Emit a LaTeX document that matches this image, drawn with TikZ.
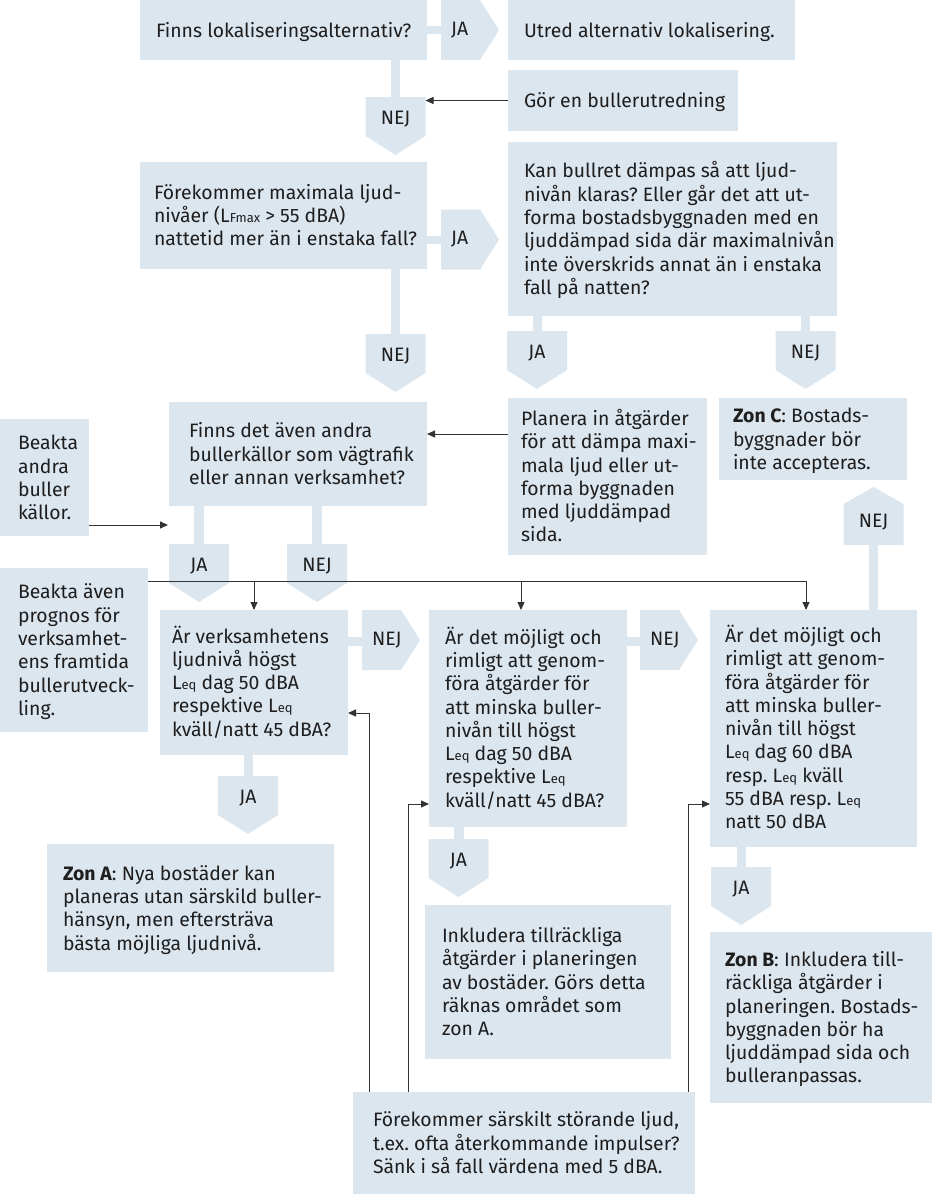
\documentclass[tikz,border=0pt]{standalone}
\usepackage{fontspec}
\setmainfont{Fira Sans}
\usetikzlibrary{arrows.meta,calc}
\definecolor{bfill}{HTML}{DCE6EF}
\definecolor{tcol}{HTML}{1E1E1E}
\definecolor{lcol}{HTML}{333333}
\frenchspacing
\newcommand\lsub[1]{{\fontsize{13}{13}\selectfont #1}}
\newcommand\bodyfont{\fontsize{19.4}{23.3}\selectfont}
\newcommand\tlines[2]{\makebox[#1pt][l]{\begin{tabular}{@{}l@{}}\rule{0pt}{21.3pt}#2\end{tabular}}}
\newcommand\dchev[4]{%
  \fill[bfill] (#2-30,#3) -- (#2+30,#3) -- (#2+30,#3+39) -- (#2,#3+58) -- (#2-30,#3+39) -- cycle;
  \node[lbl] (#1) at (#2,#3+22) {#4};
  \coordinate (#1-e) at (#2+30,#3+20);}
\newcommand\rchev[4]{%
  \fill[bfill] (#2,#3) -- (#2+39,#3) -- (#2+58,#3+30) -- (#2+39,#3+60) -- (#2,#3+60) -- cycle;
  \node[lbl, anchor=west] (#1) at (#2+10,#3+30) {#4};}
\tikzset{
  box/.style={fill=bfill, inner ysep=0pt, anchor=north west, font=\bodyfont, text=tcol, outer sep=0pt},
  lbl/.style={font=\bodyfont, text=tcol, inner sep=0pt},
  arr/.style={draw=lcol, line width=1pt, -{Triangle[length=8pt,width=7pt]}},
}
\begin{document}
\begin{tikzpicture}[x=1pt,y=-1pt]
\useasboundingbox (0,0) rectangle (946,1194);
% bars
\fill[bfill] (427,26) rectangle (441,34);
\fill[bfill] (391,60) rectangle (400,97);
\fill[bfill] (427,236) rectangle (441,244);
\fill[bfill] (391,269) rectangle (400,334);
\fill[bfill] (533,316) rectangle (542,331);
\fill[bfill] (801,316) rectangle (810,331);
\fill[bfill] (194,506) rectangle (204,544);
\fill[bfill] (312,506) rectangle (322,544);
\fill[bfill] (348,637) rectangle (362,646);
\fill[bfill] (244,755) rectangle (253,776);
\fill[bfill] (627,637) rectangle (640,646);
\fill[bfill] (454,827) rectangle (464,839);
\fill[bfill] (737,847) rectangle (746,867);
\fill[bfill] (869,545) rectangle (878,610);
% chevrons
\rchev{ja1}{441}{0}{JA}
\rchev{ja2}{441}{209.5}{JA}
\rchev{nej5}{362}{610}{NEJ}
\rchev{nej6}{640}{610}{NEJ}
\dchev{nej1}{395.5}{97}{NEJ}
\dchev{nej2}{395.5}{334}{NEJ}
\dchev{ja3}{537}{331}{JA}
\dchev{nej3}{805.5}{331}{NEJ}
\dchev{ja4}{199}{544}{JA}
\dchev{nej4}{317}{544}{NEJ}
\dchev{ja5}{248}{776}{JA}
\dchev{ja6}{458.5}{839}{JA}
\dchev{ja7}{741}{867}{JA}
\fill[bfill] (843.5,545) -- (843.5,504) -- (873.5,487) -- (903.5,504) -- (903.5,545) -- cycle;
\node[lbl] (nej7) at (873.5,522) {NEJ};
% boxes
\node[box, minimum width=287pt, minimum height=60pt, inner xsep=16pt] (q1) at (140,0) {\tlines{255}{Finns lokaliseringsalternativ?}};
\node[box, minimum width=287pt, minimum height=60pt, inner xsep=16pt] (utred) at (508,0) {\tlines{255}{Utred alternativ lokalisering.}};
\node[box, minimum width=230pt, minimum height=61pt, inner xsep=16pt] (gor) at (508,70) {\tlines{198}{Gör en bullerutredning}};
\node[box, minimum width=287pt, minimum height=107pt, inner xsep=14pt] (q2) at (140,162) {\tlines{259}{Förekommer maximala ljud-\\nivåer (L\lsub{Fmax} > 55 dBA)\\nattetid mer än i enstaka fall?}};
\node[box, minimum width=329pt, minimum height=174pt, inner xsep=16pt] (kan) at (508,142) {\tlines{297}{Kan bullret dämpas så att ljud-\\nivån klaras? Eller går det att ut-\\forma bostadsbyggnaden med en\\ljuddämpad sida där maximalnivån\\inte överskrids annat än i enstaka\\fall på natten?}};
\node[box, minimum width=199pt, minimum height=157pt, inner xsep=13pt] (planera) at (508,398) {\tlines{173}{Planera in åtgärder\\för att dämpa maxi-\\mala ljud eller ut-\\forma byggnaden\\med ljuddämpad\\sida.}};
\node[box, minimum width=188pt, minimum height=82pt, inner xsep=14pt] (zonc) at (719,398) {\tlines{160}{\textbf{Zon C}: Bostads-\\byggnader bör\\inte accepteras.}};
\node[box, minimum width=258pt, minimum height=104pt, inner xsep=20pt] (finns) at (169,402) {\tlines{218}{Finns det även andra\\bullerkällor som vägtrafik\\eller annan verksamhet?}};
\node[box, minimum width=89pt, minimum height=117pt, inner xsep=18pt] (beakta1) at (0,419) {\tlines{53}{Beakta\\andra\\buller\\källor.}};
\node[box, minimum width=148pt, minimum height=164pt, inner xsep=18pt] (beakta2) at (0,568) {\tlines{112}{Beakta även\\prognos för\\verksamhet-\\ens framtida\\bullerutveck-\\ling.}};
\node[box, minimum width=188pt, minimum height=145pt, inner xsep=12pt] (q3) at (160,610) {\tlines{164}{Är verksamhetens\\ljudnivå högst\\L\lsub{eq} dag 50 dBA\\respektive L\lsub{eq}\\kväll/natt 45 dBA?}};
\node[box, minimum width=198pt, minimum height=217pt, inner xsep=16pt] (q4) at (429,610) {\tlines{166}{Är det möjligt och\\rimligt att genom-\\föra åtgärder för\\att minska buller-\\nivån till högst\\L\lsub{eq} dag 50 dBA\\respektive L\lsub{eq}\\kväll/natt 45 dBA?}};
\node[box, minimum width=207pt, minimum height=237pt, inner xsep=15pt] (q5) at (710,610) {\tlines{177}{Är det möjligt och\\rimligt att genom-\\föra åtgärder för\\att minska buller-\\nivån till högst\\L\lsub{eq} dag 60 dBA\\resp. L\lsub{eq} kväll\\55 dBA resp. L\lsub{eq}\\natt 50 dBA}};
\node[box, minimum width=287pt, minimum height=128pt, inner xsep=16pt] (zona) at (47,844) {\tlines{255}{\textbf{Zon A}: Nya bostäder kan\\planeras utan särskild buller-\\hänsyn, men eftersträva\\bästa möjliga ljudnivå.}};
\node[box, minimum width=246pt, minimum height=154pt, inner xsep=17pt] (inkl) at (425,905) {\tlines{212}{Inkludera tillräckliga\\åtgärder i planeringen\\av bostäder. Görs detta\\räknas området som\\zon A.}};
\node[box, minimum width=222pt, minimum height=171pt, inner xsep=15pt] (zonb) at (710,932) {\tlines{192}{\textbf{Zon B}: Inkludera till-\\räckliga åtgärder i\\planeringen. Bostads-\\byggnaden bör ha\\ljuddämpad sida och\\bulleranpassas.}};
\node[box, minimum width=342pt, minimum height=102pt, inner xsep=20pt] (bottom) at (353,1092) {\tlines{302}{Förekommer särskilt störande ljud,\\t.ex. ofta återkommande impulser?\\Sänk i så fall värdena med 5 dBA.}};
% connectors
\draw[arr] (gor.west) -- (gor.west -| nej1-e);
\coordinate (p1) at ([yshift=-36pt]planera.north west);
\draw[arr] (p1) -- (p1 -| finns.east);
\coordinate (b1) at ([yshift=11pt]beakta1.south east);
\coordinate (b1end) at ([xshift=-1pt]b1 -| finns.west);
\draw[arr] (b1) -- (b1end);
\coordinate (d0) at ([yshift=-13pt]beakta2.north east);
\coordinate (a4) at ([xshift=-7pt]q4.north);
\coordinate (a5) at ([xshift=-7.5pt]q5.north);
\draw[arr] (d0) -- (d0 -| a5) -- (a5);
\draw[arr] (d0 -| q3.north) -- (q3.north);
\draw[arr] (d0 -| a4) -- (a4);
\coordinate (f3) at ([xshift=16pt]bottom.north west);
\coordinate (f4) at ([xshift=55pt]bottom.north west);
\coordinate (f5) at ([xshift=335pt]bottom.north west);
\draw[arr] (f3) |- ([yshift=-30.5pt]q3.east);
\draw[arr] (f4) |- ([yshift=-85.5pt]q4.west);
\draw[arr] (f5) |- ([yshift=-75.5pt]q5.west);
\end{tikzpicture}
\end{document}
